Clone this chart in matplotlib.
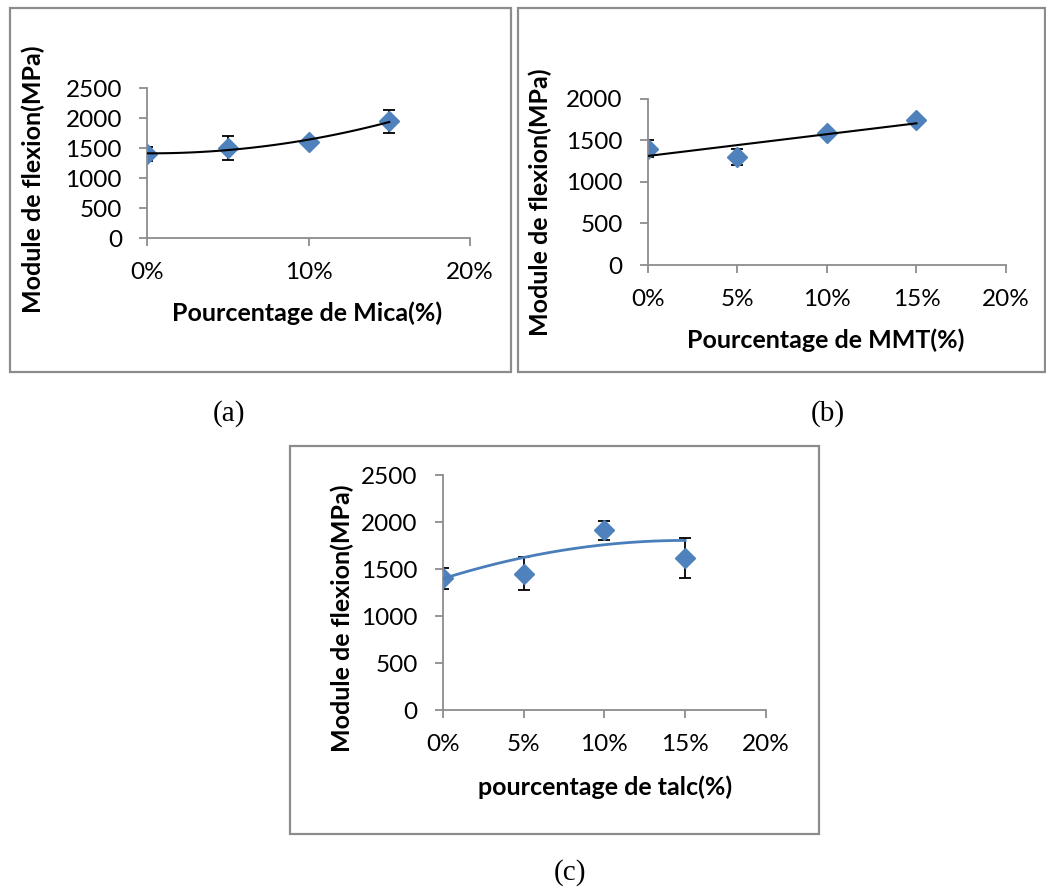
import matplotlib
matplotlib.use("Agg")
import matplotlib.pyplot as plt
from matplotlib.patches import Rectangle
from matplotlib.ticker import MultipleLocator, PercentFormatter
import numpy as np

# données
pourcentage = [0.00, 0.05, 0.10, 0.15]

mica_module = [1400, 1500, 1605, 1945]
mica_erreur = [110, 200, 40, 195]

mmt_module = [1400, 1300, 1590, 1740]
mmt_erreur = [105, 100, 30, 30]

talc_module = [1400, 1450, 1910, 1615]
talc_erreur = [110, 175, 97, 213]
talc_tendance = [1400, 1610, 1770, 1800]  # courbe bleue lissée

W, H = 1046, 888
BLEU = "#4F81BD"
GRIS = "#8C8C8C"
plt.rcParams["font.family"] = ["Lato", "DejaVu Sans"]

fig = plt.figure(figsize=(W / 100, H / 100), dpi=100)


def px(x0, y0, x1, y1):
    """rectangle en pixels (haut-gauche, bas-droite) -> coordonnées figure"""
    return [x0 / W, 1 - y1 / H, (x1 - x0) / W, (y1 - y0) / H]


def cadre(x0, y0, x1, y1):
    r = Rectangle((x0 / W, 1 - y1 / H), (x1 - x0) / W, (y1 - y0) / H,
                  transform=fig.transFigure, fill=False, edgecolor=GRIS, lw=1.6)
    fig.patches.append(r)


def graphe(rect, y, err, ymax, xstep, tendance_x, tendance_y, couleur, lw):
    ax = fig.add_axes(rect)
    ax.errorbar(pourcentage, y, yerr=err, fmt="D", ms=10, color=BLEU,
                ecolor="black", elinewidth=1.3, capsize=4.3, capthick=1.3, zorder=2)
    ax.plot(tendance_x, tendance_y, color=couleur, lw=lw, zorder=3)
    ax.set_xlim(0, 0.2)
    ax.set_ylim(0, ymax)
    ax.xaxis.set_major_locator(MultipleLocator(xstep))
    ax.yaxis.set_major_locator(MultipleLocator(500))
    ax.xaxis.set_major_formatter(PercentFormatter(1.0, decimals=0))
    for s in ["top", "right"]:
        ax.spines[s].set_visible(False)
    for s in ["left", "bottom"]:
        ax.spines[s].set_color(GRIS)
        ax.spines[s].set_linewidth(1.3)
    ax.tick_params(direction="out", length=6, width=1.3, color=GRIS,
                   labelsize=17.5, pad=12)
    ax.tick_params(axis="x", pad=11)
    ax.patch.set_alpha(0)
    for a in [ax.xaxis, ax.yaxis]:
        for t in a.get_major_ticks():
            t.label1.set_clip_on(False)
    ax.spines["left"].set_clip_on(False)
    ax.spines["bottom"].set_clip_on(False)
    return ax


x_fin = np.linspace(0, 0.15, 100)
LAB = 18

# (a) Mica : tendance polynomiale d'ordre 2
cadre(10, 8, 511, 372)
coef_a = np.polyfit(pourcentage, mica_module, 2)
graphe(px(147, 88, 470, 238), mica_module, mica_erreur, 2500, 0.10,
       x_fin, np.polyval(coef_a, x_fin), "black", 1.5)
fig.text(33 / W, 1 - 179 / H, "Module de flexion(MPa)", rotation=90,
         ha="center", va="center", fontsize=LAB, fontweight="bold")
fig.text(307 / W, 1 - 313 / H, "Pourcentage de Mica(%)",
         ha="center", va="center", fontsize=LAB, fontweight="bold")

# (b) MMT : tendance linéaire
cadre(518, 8, 1045, 372)
coef_b = np.polyfit(pourcentage, mmt_module, 1)
graphe(px(647.7, 98.7, 1006, 265), mmt_module, mmt_erreur, 2000, 0.05,
       x_fin, np.polyval(coef_b, x_fin), "black", 1.5)
fig.text(540 / W, 1 - 202 / H, "Module de flexion(MPa)", rotation=90,
         ha="center", va="center", fontsize=LAB, fontweight="bold")
fig.text(826 / W, 1 - 340 / H, "Pourcentage de MMT(%)",
         ha="center", va="center", fontsize=LAB, fontweight="bold")

# (c) talc : courbe lissée bleue
cadre(290, 446, 819, 834)
coef_c = np.polyfit(pourcentage, talc_tendance, 2)
graphe(px(442.7, 475, 766, 710), talc_module, talc_erreur, 2500, 0.05,
       x_fin, np.polyval(coef_c, x_fin), "#4A7EBB", 2.0)
fig.text(342 / W, 1 - 618 / H, "Module de flexion(MPa)", rotation=90,
         ha="center", va="center", fontsize=LAB, fontweight="bold")
fig.text(605 / W, 1 - 787 / H, "pourcentage de talc(%)",
         ha="center", va="center", fontsize=LAB, fontweight="bold")

# légendes (a), (b), (c)
for lab, x, y in [("(a)", 229, 414), ("(b)", 828, 414), ("(c)", 570, 873)]:
    fig.text(x / W, 1 - y / H, lab, ha="center", va="center", fontsize=21,
             family="Liberation Serif")

fig.savefig("out.png", dpi=100)
